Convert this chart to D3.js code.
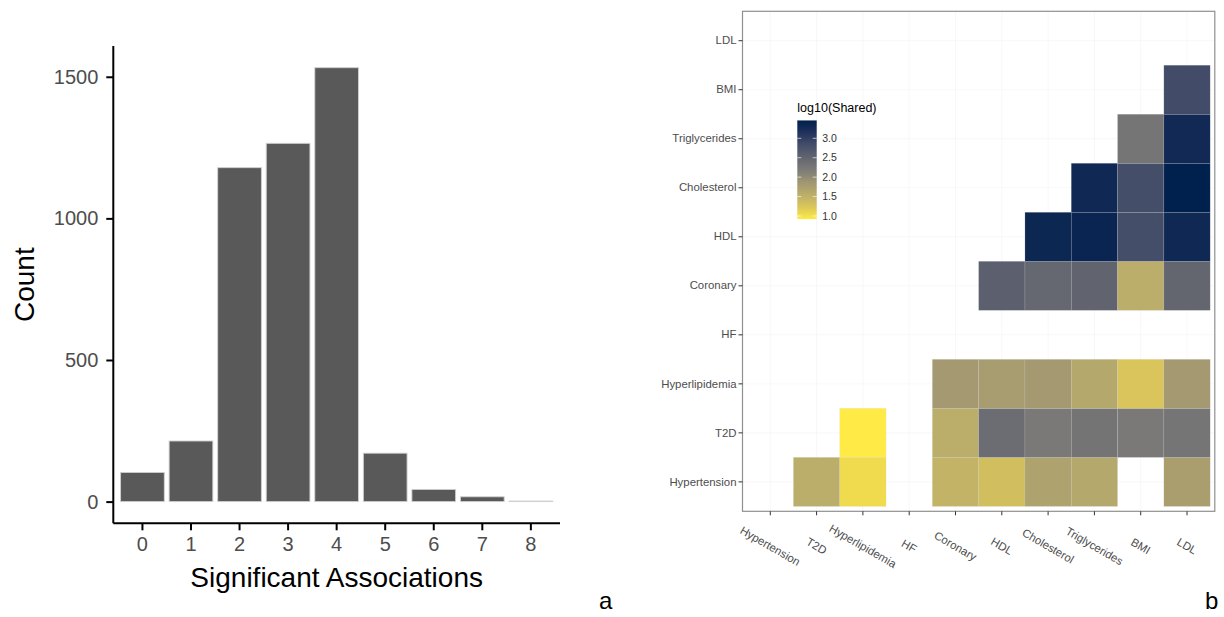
<!DOCTYPE html>
<html>
<head>
<meta charset="utf-8">
<script src="https://cdn.jsdelivr.net/npm/d3@7"></script>
<style>
  html, body { margin: 0; padding: 0; background: #fff; }
  svg { display: block; font-family: "Liberation Sans", Arial, Helvetica, sans-serif; }
</style>
</head>
<body>
<svg id="chart" width="1224" height="617"></svg>
<script>
// ---------- Panel a data ----------
const assocCategories = ["0", "1", "2", "3", "4", "5", "6", "7", "8"];
const assocCounts = [103, 214, 1179, 1265, 1532, 171, 43, 17, 2];
const countTicks = [0, 500, 1000, 1500];

// ---------- Panel b data ----------
const traits = ["Hypertension", "T2D", "Hyperlipidemia", "HF", "Coronary", "HDL", "Cholesterol", "Triglycerides", "BMI", "LDL"];
const tileRows = [
  "Hypertension", "Hypertension", "Hypertension", "Hypertension", "Hypertension", "Hypertension", "Hypertension",
  "T2D", "T2D", "T2D", "T2D", "T2D", "T2D", "T2D",
  "Hyperlipidemia", "Hyperlipidemia", "Hyperlipidemia", "Hyperlipidemia", "Hyperlipidemia", "Hyperlipidemia",
  "Coronary", "Coronary", "Coronary", "Coronary", "Coronary",
  "HDL", "HDL", "HDL", "HDL",
  "Cholesterol", "Cholesterol", "Cholesterol",
  "Triglycerides", "Triglycerides",
  "BMI"
];
const tileCols = [
  "T2D", "Hyperlipidemia", "Coronary", "HDL", "Cholesterol", "Triglycerides", "LDL",
  "Hyperlipidemia", "Coronary", "HDL", "Cholesterol", "Triglycerides", "BMI", "LDL",
  "Coronary", "HDL", "Cholesterol", "Triglycerides", "BMI", "LDL",
  "HDL", "Cholesterol", "Triglycerides", "BMI", "LDL",
  "Cholesterol", "Triglycerides", "BMI", "LDL",
  "Triglycerides", "BMI", "LDL",
  "BMI", "LDL",
  "LDL"
];
const tileValues = [
  1.56, 1.05, 1.48, 1.33, 1.71, 1.63, 1.76,
  0.92, 1.56, 2.39, 2.22, 2.29, 2.22, 2.27,
  1.83, 1.78, 1.83, 1.63, 1.25, 1.83,
  2.57, 2.47, 2.52, 1.56, 2.50,
  3.33, 3.36, 2.82, 3.31,
  3.31, 2.82, 3.46,
  2.27, 3.28,
  2.85
];
const legendTicks = [1.0, 1.5, 2.0, 2.5, 3.0];
const legendTitle = "log10(Shared)";
// cividis-like palette, position 0 = high (navy) to 1 = low (yellow)
const paletteStopPos = [0, 0.1, 0.25, 0.375, 0.5, 0.625, 0.75, 0.875, 1];
const paletteStops = ["#00204D", "#1A2D59", "#454E69", "#62656F", "#7C7B78", "#A09672", "#BBAD6A", "#DAC65A", "#FFEA46"];

const svg = d3.select("#chart");
const textGrey = "#4d4d4d";

// =================== Panel a : bar chart ===================
{
  const left = 113.3, right = 560, top = 46, bottom = 523.3;
  const x = d3.scaleBand().domain(assocCategories).range([left, right])
    .paddingInner(0.1).paddingOuter(0.15);
  const yMax = d3.max(assocCounts);
  const ex = yMax * 0.05;
  const y = d3.scaleLinear().domain([-ex, yMax + ex]).range([bottom, top]);

  const g = svg.append("g");
  g.selectAll("rect.bar").data(assocCounts).join("rect")
    .attr("class", "bar")
    .attr("x", (d, i) => x(assocCategories[i]))
    .attr("width", x.bandwidth())
    .attr("y", d => y(d))
    .attr("height", d => Math.max(0, y(0) - y(d)))
    .attr("fill", "#595959")
    .attr("stroke", "#d0d0d0")
    .attr("stroke-width", 0.9);

  const yAxis = d3.axisLeft(y).tickValues(countTicks).tickFormat(d3.format("d")).tickSize(7).tickPadding(8);
  const ya = g.append("g").attr("transform", `translate(${left},0)`).call(yAxis);
  ya.select(".domain").attr("d", `M0,${top}V${bottom}`).attr("stroke", "#000").attr("stroke-width", 2);
  ya.selectAll(".tick line").attr("stroke", "#000").attr("stroke-width", 2);
  ya.selectAll(".tick text").attr("fill", textGrey).style("font-size", "20px")
    .style("font-family", "Liberation Sans, Arial, sans-serif");

  const xAxis = d3.axisBottom(x).tickSize(7).tickPadding(7);
  const xa = g.append("g").attr("transform", `translate(0,${bottom})`).call(xAxis);
  xa.select(".domain").attr("d", `M${left},0H${right}`).attr("stroke", "#000").attr("stroke-width", 2);
  xa.selectAll(".tick line").attr("stroke", "#000").attr("stroke-width", 2);
  xa.selectAll(".tick text").attr("fill", textGrey).style("font-size", "20px")
    .style("font-family", "Liberation Sans, Arial, sans-serif");

  g.append("text").attr("x", (left + right) / 2).attr("y", 586.7)
    .attr("text-anchor", "middle").style("font-size", "28px").attr("fill", "#000")
    .text("Significant Associations");
  g.append("text").attr("transform", `translate(34,${(top + bottom) / 2}) rotate(-90)`)
    .attr("text-anchor", "middle").style("font-size", "28px").attr("fill", "#000")
    .text("Count");
  g.append("text").attr("x", 599).attr("y", 609).style("font-size", "24px").attr("fill", "#000").text("a");
}

// =================== Panel b : heatmap ===================
{
  const left = 742.5, right = 1214.8, top = 11.3, bottom = 511.3;
  const x = d3.scaleBand().domain(traits).range([left, right]).paddingInner(0).paddingOuter(0.1);
  const y = d3.scaleBand().domain(traits.slice().reverse()).range([top, bottom]).paddingInner(0).paddingOuter(0.1);
  const ext = d3.extent(tileValues);
  const palette = d3.scaleLinear().domain(paletteStopPos).range(paletteStops).interpolate(d3.interpolateRgb);
  const color = d3.scaleSequential(t => palette(1 - t)).domain(ext);

  const g = svg.append("g");

  g.selectAll("line.gx").data(traits).join("line").attr("class", "gx")
    .attr("x1", d => x(d) + x.bandwidth() / 2).attr("x2", d => x(d) + x.bandwidth() / 2)
    .attr("y1", top).attr("y2", bottom).attr("stroke", "#f3f3f3").attr("stroke-width", 0.6);
  g.selectAll("line.gy").data(traits).join("line").attr("class", "gy")
    .attr("y1", d => y(d) + y.bandwidth() / 2).attr("y2", d => y(d) + y.bandwidth() / 2)
    .attr("x1", left).attr("x2", right).attr("stroke", "#f3f3f3").attr("stroke-width", 0.6);

  g.selectAll("rect.tile").data(tileValues).join("rect").attr("class", "tile")
    .attr("x", (d, i) => x(tileCols[i]))
    .attr("y", (d, i) => y(tileRows[i]))
    .attr("width", x.bandwidth())
    .attr("height", y.bandwidth())
    .attr("fill", d => color(d))
    .attr("stroke", "rgba(210,210,210,0.35)")
    .attr("stroke-width", 0.5);

  g.append("rect").attr("x", left).attr("y", top).attr("width", right - left).attr("height", bottom - top)
    .attr("fill", "none").attr("stroke", "#8f8f8f").attr("stroke-width", 1.2);

  const ya = g.append("g").attr("transform", `translate(${left},0)`)
    .call(d3.axisLeft(y).tickSize(4).tickPadding(2));
  ya.select(".domain").remove();
  ya.selectAll(".tick line").attr("stroke", "#333").attr("stroke-width", 1);
  ya.selectAll(".tick text").attr("fill", textGrey).style("font-size", "11.4px")
    .style("font-family", "Liberation Sans, Arial, sans-serif");

  const xa = g.append("g").attr("transform", `translate(0,${bottom})`)
    .call(d3.axisBottom(x).tickSize(4).tickFormat(""));
  xa.select(".domain").remove();
  xa.selectAll(".tick line").attr("stroke", "#333").attr("stroke-width", 1);
  g.selectAll("text.xl").data(traits).join("text").attr("class", "xl")
    .attr("transform", d => `translate(${x(d) + x.bandwidth() / 2},546) rotate(30)`)
    .attr("text-anchor", "middle").attr("dy", "0.35em")
    .attr("fill", textGrey).style("font-size", "11.4px").text(d => d);

  // legend
  const lx = 797.3, lw = 19.4;
  const ly = d3.scaleLinear().domain([1.0, 3.0]).range([216, 138.3]);
  const defs = svg.append("defs");
  const grad = defs.append("linearGradient").attr("id", "lg")
    .attr("x1", 0).attr("y1", 1).attr("x2", 0).attr("y2", 0);
  d3.range(0, 1.0001, 0.025).forEach(t => {
    grad.append("stop").attr("offset", t).attr("stop-color", color(ext[0] + t * (ext[1] - ext[0])));
  });
  g.append("rect").attr("x", lx).attr("y", ly(ext[1])).attr("width", lw)
    .attr("height", ly(ext[0]) - ly(ext[1])).attr("fill", "url(#lg)");
  g.selectAll("line.ltl").data(legendTicks).join("line").attr("class", "ltl")
    .attr("x1", lx).attr("x2", lx + 4).attr("y1", d => ly(d)).attr("y2", d => ly(d))
    .attr("stroke", "#fff").attr("stroke-opacity", 0.8).attr("stroke-width", 0.8);
  g.selectAll("line.ltr").data(legendTicks).join("line").attr("class", "ltr")
    .attr("x1", lx + lw - 4).attr("x2", lx + lw).attr("y1", d => ly(d)).attr("y2", d => ly(d))
    .attr("stroke", "#fff").attr("stroke-opacity", 0.8).attr("stroke-width", 0.8);
  g.selectAll("text.lt").data(legendTicks).join("text").attr("class", "lt")
    .attr("x", lx + lw + 5.5).attr("y", d => ly(d)).attr("dy", "0.35em")
    .attr("fill", "#333").style("font-size", "10.5px").text(d => d3.format(".1f")(d));
  g.append("text").attr("x", lx).attr("y", 111.5).attr("fill", "#000")
    .style("font-size", "12.5px").text(legendTitle);

  g.append("text").attr("x", 1205).attr("y", 609).style("font-size", "24px").attr("fill", "#000").text("b");
}
</script>
</body>
</html>
